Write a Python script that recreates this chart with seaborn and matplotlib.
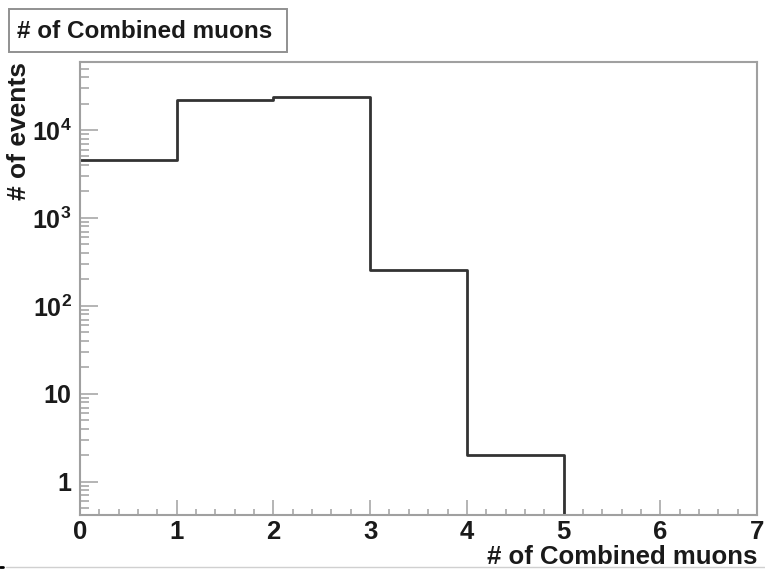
import numpy as np
import pandas as pd
import matplotlib
matplotlib.use("Agg")
import matplotlib.pyplot as plt
import matplotlib.ticker as mticker
from matplotlib.patches import Rectangle
from matplotlib.lines import Line2D
import seaborn as sns

# Histogram contents: number of combined muons per event
bin_edges = [0, 1, 2, 3, 4, 5, 6, 7]
bin_counts = [4560, 21900, 23700, 257, 2, 0, 0]
y_tick_values = [1, 10, 100, 1000, 10000]
y_tick_labels = ["1", "10", "$10^{2}$", "$10^{3}$", "$10^{4}$"]
x_tick_values = [0, 1, 2, 3, 4, 5, 6, 7]
title_text = "# of Combined muons"
x_title = "# of Combined muons"
y_title = "# of events"

sns.set_style("white")
plt.rcParams["font.family"] = ["Liberation Sans", "DejaVu Sans"]
plt.rcParams["font.weight"] = "bold"
plt.rcParams["mathtext.fontset"] = "custom"
plt.rcParams["mathtext.rm"] = "Liberation Sans:bold"
plt.rcParams["mathtext.it"] = "Liberation Sans:bold"
plt.rcParams["mathtext.bf"] = "Liberation Sans:bold"

frame_col = "#a0a0a0"
text_col = "#1a1a1a"

fig = plt.figure(figsize=(7.65, 5.70), dpi=100)
fig.patch.set_facecolor("white")
W, H = 765, 570
ax = fig.add_axes([80 / W, 1 - 515 / H, (757 - 80) / W, (515 - 62) / H])

centers = [(a + b) / 2 for a, b in zip(bin_edges[:-1], bin_edges[1:])]
df = pd.DataFrame({"n_muons": centers, "events": bin_counts})
sns.histplot(data=df, x="n_muons", weights="events", bins=bin_edges,
             element="step", fill=False, color="#333333", linewidth=2.0,
             ax=ax)

ax.set_yscale("log", nonpositive="clip")
ax.set_xlim(0, 7)
ax.set_ylim(0.42, 59300)

# axis ticks, ROOT style: inside, left/bottom only
ax.xaxis.set_major_locator(mticker.FixedLocator(x_tick_values))
ax.xaxis.set_minor_locator(mticker.MultipleLocator(0.2))
ax.yaxis.set_major_locator(mticker.FixedLocator(y_tick_values))
ax.yaxis.set_major_formatter(mticker.FixedFormatter(y_tick_labels))
ax.yaxis.set_minor_locator(mticker.LogLocator(base=10, subs=np.arange(2, 10), numticks=20))
ax.yaxis.set_minor_formatter(mticker.NullFormatter())
ax.set_xticklabels([str(v) for v in x_tick_values])

ax.tick_params(which="both", bottom=True, left=True, top=False, right=False)
ax.tick_params(axis="x", which="major", direction="in", length=10.8, width=1.1,
               color=frame_col, labelsize=18.5, labelcolor=text_col, pad=3.5)
ax.tick_params(axis="x", which="minor", direction="in", length=4.3, width=1.1,
               color=frame_col)
ax.tick_params(axis="y", which="major", direction="in", length=13, width=1.1,
               color=frame_col, labelsize=18, labelcolor=text_col, pad=6)
ax.tick_params(axis="y", which="minor", direction="in", length=6.5, width=1.1,
               color=frame_col)

for sp in ax.spines.values():
    sp.set_visible(True)
    sp.set_color(frame_col)
    sp.set_linewidth(1.5)

ax.set_xlabel(x_title, loc="right", fontsize=18.5, fontweight="bold", color=text_col)
ax.xaxis.set_label_coords(1.0, -(557 - 515) / (515 - 62))
ax.xaxis.label.set_va("center")
ax.set_ylabel(y_title, loc="top", fontsize=19, fontweight="bold", color=text_col)
ax.yaxis.set_label_coords(-(80 - 19) / (757 - 80), 1.0)
ax.yaxis.label.set_va("center")

# title box in the top-left corner
fig.add_artist(Rectangle((9 / W, 1 - 52 / H), (287 - 9) / W, (52 - 9) / H,
                         transform=fig.transFigure, facecolor="white",
                         edgecolor="#909090", linewidth=1.4))
fig.text(17 / W, 1 - 31 / H, title_text, fontsize=17.5, fontweight="bold",
         color=text_col, ha="left", va="center")

# thin page rule at the bottom edge
fig.add_artist(Line2D([6 / W, 1.0], [1 - 567 / H, 1 - 567 / H],
                      transform=fig.transFigure, color="#d0d0d0", linewidth=1))
fig.add_artist(Line2D([0, 3 / W], [1 - 567 / H, 1 - 567 / H],
                      transform=fig.transFigure, color="#000000", linewidth=2))

fig.savefig("out.png", dpi=100)
